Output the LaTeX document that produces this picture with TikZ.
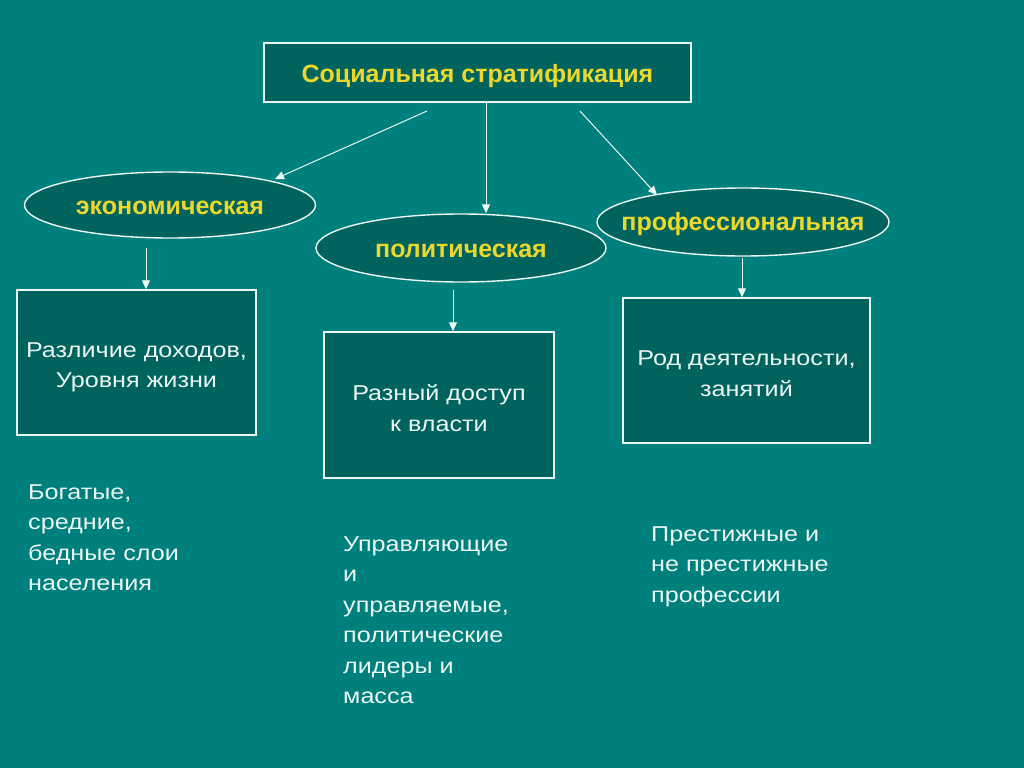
\documentclass[tikz,border=0pt]{standalone}
\usepackage{fontspec}
\setmainfont{Liberation Sans}
\newfontfamily\widefont[FakeStretch=1.17]{Liberation Sans}
\usetikzlibrary{arrows.meta,shapes.geometric}
\definecolor{bgteal}{RGB}{0,128,124}
\definecolor{boxteal}{RGB}{0,99,94}
\definecolor{ylw}{RGB}{236,216,44}
\definecolor{wht}{RGB}{236,246,242}
\tikzset{
  rbox/.style={draw=wht,line width=1.4pt,fill=boxteal,minimum width=#1},
  boxtext/.style={align=center,text=wht,inner sep=0pt,font=\widefont\fontsize{21.5}{30.5}\selectfont},
  ell/.style={ellipse,draw=wht,line width=1.4pt,fill=boxteal,inner sep=0pt},
  ylwtext/.style={text=ylw,inner sep=0pt,font=\bfseries\fontsize{25}{29}\selectfont},
  arr/.style={draw=wht,line width=1pt,-{Triangle[length=9pt,width=8pt]}},
  plain/.style={anchor=north west,align=left,text=wht,inner sep=0pt,font=\widefont\fontsize{21.5}{30.5}\selectfont}
}
\begin{document}
\begin{tikzpicture}[x=1pt,y=-1pt]
\fill[bgteal] (0,0) rectangle (1024,768);
\useasboundingbox (0,0) rectangle (1024,768);
\node[rbox=427pt,minimum height=59pt] (top) at (477.5,72.5) {};
\node[ylwtext] (topt) at ([yshift=-4pt]top.center) {Социальная стратификация};
\node[ell,minimum width=291pt,minimum height=66pt] (eco) at (170,205) {};
\node[ell,minimum width=290pt,minimum height=68pt] (pol) at (461,248) {};
\node[ell,minimum width=292pt,minimum height=68pt] (prof) at (743,222) {};
\node[ylwtext] (ecot) at ([yshift=-3pt]eco.center) {экономическая};
\node[ylwtext] (polt) at ([yshift=-2.5pt]pol.center) {политическая};
\node[ylwtext] (proft) at ([yshift=-2pt]prof.center) {профессиональная};
\node[rbox=239pt,minimum height=145pt] (b1) at (136.5,362.5) {};
\node[rbox=230pt,minimum height=146pt] (b2) at (439,405) {};
\node[rbox=247pt,minimum height=145pt] (b3) at (746.5,370.5) {};
\node[boxtext] (b1t) at ([yshift=-5pt]b1.center) {Различие доходов,\\Уровня жизни};
\node[boxtext] (b2t) at ([yshift=-3pt]b2.center) {Разный доступ\\к власти};
\node[boxtext] (b3t) at ([yshift=-3pt]b3.center) {Род деятельности,\\занятий};
\node[plain] (t1) at (28,484) {Богатые,\\средние,\\бедные слои\\населения};
\node[plain] (t2) at (343,536) {Управляющие\\и\\управляемые,\\политические\\лидеры и\\масса};
\node[plain] (t3) at (651,526) {Престижные и\\не престижные\\профессии};
\coordinate (s1) at (427,111);
\coordinate (e1) at (275,179);
\coordinate (s2) at (486,103);
\coordinate (s3) at (580,111);
\coordinate (e3) at (657,195);
\coordinate (a1) at (146,248);
\coordinate (a2) at (453,290);
\coordinate (a3) at (742,258);
\draw[arr] (s1) -- (e1);
\draw[arr] (s2) -- (s2 |- pol.north);
\draw[arr] (s3) -- (e3);
\draw[arr] (a1) -- (a1 |- b1.north);
\draw[arr] (a2) -- (a2 |- b2.north);
\draw[arr] (a3) -- (a3 |- b3.north);
\end{tikzpicture}
\end{document}
